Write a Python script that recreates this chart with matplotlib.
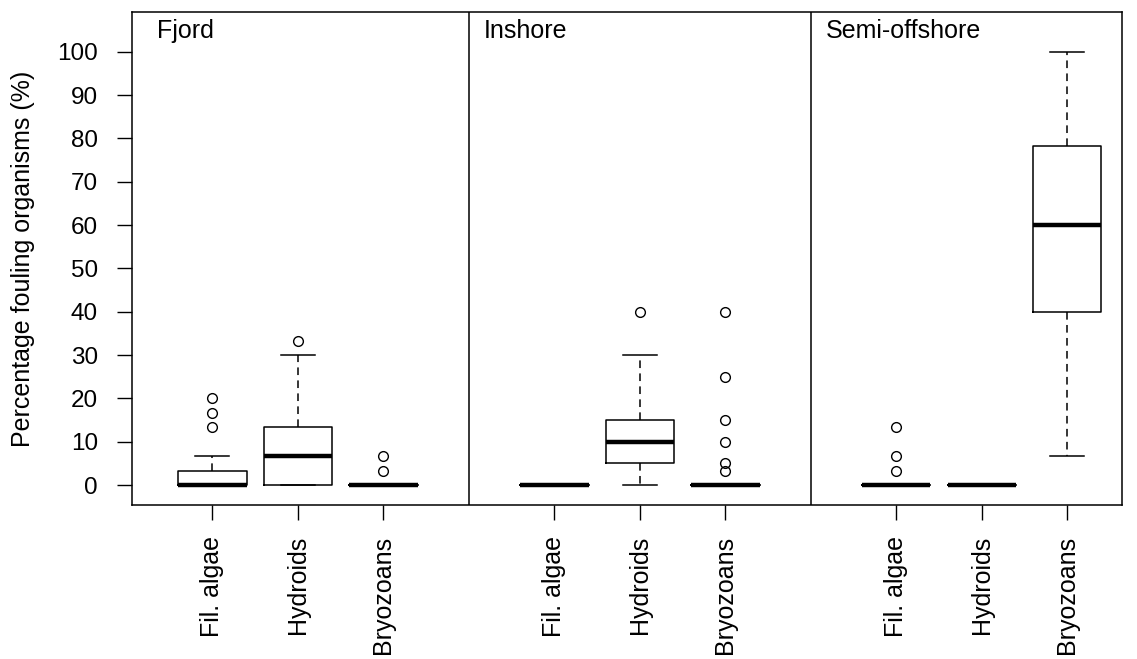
import matplotlib
matplotlib.use("Agg")
import matplotlib.pyplot as plt

# boxplot summary stats (percent cover)
regions = ["Fjord", "Inshore", "Semi-offshore"]
groups = ["Fil. algae", "Hydroids", "Bryozoans"]

# order: Fjord (algae, hydroids, bryozoans), Inshore (...), Semi-offshore (...)
q1 = [0, 0, 0, 0, 5, 0, 0, 0, 40]
med = [0, 6.67, 0, 0, 10, 0, 0, 0, 60]
q3 = [3.33, 13.33, 0, 0, 15, 0, 0, 0, 78.33]
whislo = [0, 0, 0, 0, 0, 0, 0, 0, 6.67]
whishi = [6.67, 30, 0, 0, 30, 0, 0, 0, 100]
fliers = [
    [13.33, 16.67, 20],
    [33.33],
    [3.33, 6.67],
    [],
    [40],
    [3.33, 5, 10, 15, 25, 40],
    [3.33, 6.67, 13.33],
    [],
    [],
]

positions = [1, 2, 3, 5, 6, 7, 9, 10, 11]
separators = [4, 8]

plt.rcParams['font.family'] = ['Liberation Sans', 'DejaVu Sans']
fs = 18

fig = plt.figure(figsize=(11.37, 6.59), dpi=100)
ax = fig.add_axes([0.1161, 0.2337, 0.8707, 0.7481])

stats = []
for i in range(len(positions)):
    stats.append(dict(med=med[i], q1=q1[i], q3=q3[i], whislo=whislo[i],
                      whishi=whishi[i], fliers=fliers[i]))

ax.bxp(stats, positions=positions, widths=0.8, capwidths=0.4,
       boxprops=dict(color='black', linewidth=1.1),
       medianprops=dict(color='black', linewidth=3.2, solid_capstyle='butt'),
       whiskerprops=dict(color='black', linewidth=1.1, linestyle=(0, (5, 3.5))),
       capprops=dict(color='black', linewidth=1.1),
       flierprops=dict(marker='o', markersize=7, markerfacecolor='none',
                       markeredgecolor='black', markeredgewidth=1.0))

for s in separators:
    ax.axvline(s, color='black', linewidth=1.1)

label_x = [0.35, 4.17, 8.18]
for lx, name in zip(label_x, regions):
    ax.text(lx, 103.2, name, fontsize=fs, va='baseline', ha='left')

ax.set_xlim(0.06, 11.64)
ax.set_ylim(-4.6, 109.2)
ax.set_yticks(range(0, 101, 10))
ax.set_xticks(positions)
ax.set_xticklabels(groups * 3, rotation=90, fontsize=fs)
ax.tick_params(axis='y', labelsize=fs - 0.5, length=10.5, width=1, pad=14)
ax.tick_params(axis='x', length=10.5, width=1, pad=12)
ax.set_ylabel("Percentage fouling organisms (%)", fontsize=fs)
ax.yaxis.set_label_coords(-0.098, 0.5)
for sp in ax.spines.values():
    sp.set_linewidth(1.1)

fig.savefig("out.png", dpi=100)
